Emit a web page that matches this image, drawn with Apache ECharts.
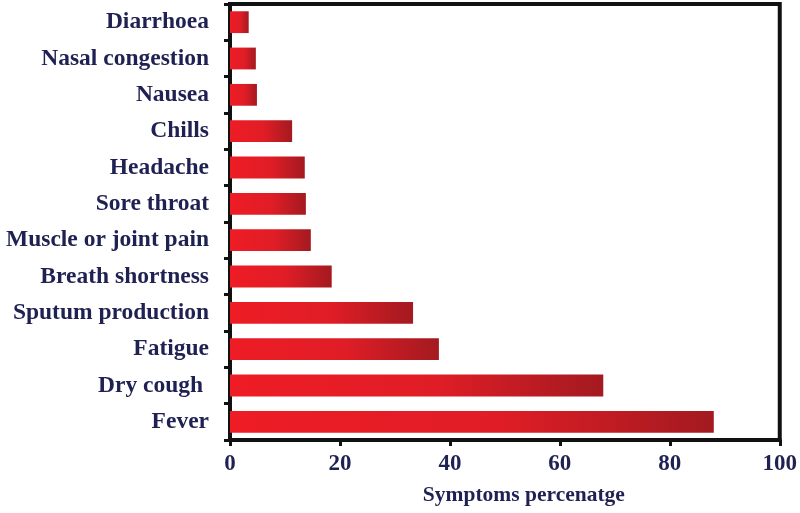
<!DOCTYPE html>
<html>
<head>
<meta charset="utf-8">
<script src="https://cdn.jsdelivr.net/npm/echarts@6/dist/echarts.min.js"></script>
<style>
  html, body { margin: 0; padding: 0; background: #fff; }
  #chart { width: 800px; height: 513px; }
</style>
</head>
<body>
<div id="chart"></div>
<script>
// symptoms, bottom to top
var symptoms = ["Fever", "Dry cough ", "Fatigue", "Sputum production", "Breath shortness",
  "Muscle or joint pain", "Sore throat", "Headache", "Chills", "Nausea", "Nasal congestion", "Diarrhoea"];
var percentages = [88.0, 67.9, 38.0, 33.3, 18.5, 14.7, 13.8, 13.6, 11.3, 4.9, 4.7, 3.4];
var xTicks = [0, 20, 40, 60, 80, 100];

var navy = "#1f2152";
var labelFont = { fontFamily: "Liberation Serif", fontWeight: "bold", fontSize: 23.5, color: navy };

var myChart = echarts.init(document.getElementById("chart"));
myChart.setOption({
  animation: false,
  grid: {
    left: 230, right: 18, top: 4, bottom: 73,
    show: true, borderColor: "#111", borderWidth: 4
  },
  xAxis: {
    type: "value",
    min: xTicks[0],
    max: xTicks[xTicks.length - 1],
    interval: 20,
    name: "Symptoms percenatge",
    nameLocation: "middle",
    nameGap: 44,
    nameTextStyle: Object.assign({}, labelFont, { fontSize: 21.5, padding: [0, 0, 0, 38] }),
    axisLine: { show: true, lineStyle: { color: "#111", width: 4 } },
    axisTick: { show: true, length: 6, lineStyle: { color: "#111", width: 3 } },
    axisLabel: Object.assign({}, labelFont, { margin: 13, fontSize: 23 }),
    splitLine: { show: false }
  },
  yAxis: {
    type: "category",
    data: symptoms,
    axisLine: { show: true, lineStyle: { color: "#111", width: 4 } },
    axisTick: { show: true, length: 6, lineStyle: { color: "#111", width: 3 } },
    axisLabel: Object.assign({ margin: 21 }, labelFont),
    splitLine: { show: false }
  },
  series: [{
    type: "bar",
    data: percentages,
    barWidth: "60%",
    itemStyle: {
      color: new echarts.graphic.LinearGradient(0, 0, 1, 0, [
        { offset: 0, color: "#ee1c25" },
        { offset: 0.55, color: "#e01d26" },
        { offset: 1, color: "#a31a20" }
      ])
    }
  }]
});
</script>
</body>
</html>
